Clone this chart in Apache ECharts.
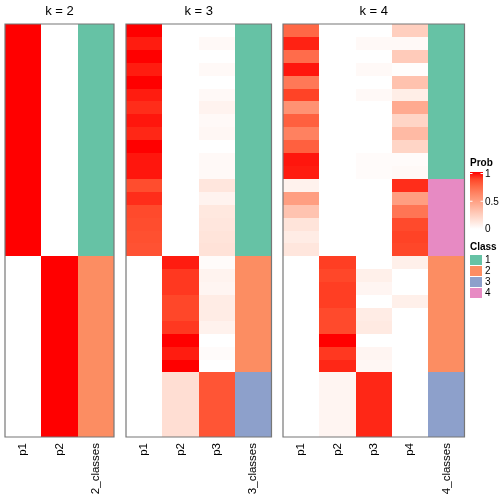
<!DOCTYPE html>
<html>
<head>
<meta charset="utf-8">
<script src="https://cdn.jsdelivr.net/npm/echarts@6/dist/echarts.min.js"></script>
<style>html,body{margin:0;padding:0;background:#fff}#c{width:504px;height:504px}</style>
</head>
<body>
<div id="c"></div>
<script>
// ---------- data ----------
const panelTitles = ['k = 2', 'k = 3', 'k = 4'];
const k2Cols = ['p1', 'p2', '2_classes'];
const k3Cols = ['p1', 'p2', 'p3', '3_classes'];
const k4Cols = ['p1', 'p2', 'p3', 'p4', '4_classes'];

const k2_p1 = [1,1,1,1,1,1,1,1,1,1,1,1,1,1,1,1,1,1, 0,0,0,0,0,0,0,0,0,0,0,0,0,0];
const k2_p2 = [0,0,0,0,0,0,0,0,0,0,0,0,0,0,0,0,0,0, 1,1,1,1,1,1,1,1,1,1,1,1,1,1];
const k2_class = [1,1,1,1,1,1,1,1,1,1,1,1,1,1,1,1,1,1, 2,2,2,2,2,2,2,2,2,2,2,2,2,2];

const k3_p1 = [1.00,0.95,1.00,0.95,1.00,0.95,0.92,0.96,0.93,1.00,0.96,0.96,0.85,0.92,0.86,0.85,0.84,0.83,
               0,0,0,0,0,0,0,0,0, 0,0,0,0,0];
const k3_p2 = [0,0,0,0,0,0,0,0,0,0,0,0,0,0,0,0,0,0,
               0.95,0.90,0.90,0.87,0.87,0.90,1.00,0.95,1.00, 0.17,0.17,0.17,0.17,0.17];
const k3_p3 = [0,0.03,0,0.03,0,0.03,0.06,0.03,0.04,0,0.03,0.03,0.13,0.06,0.12,0.13,0.14,0.15,
               0.02,0.06,0.05,0.10,0.10,0.07,0,0.02,0, 0.82,0.82,0.82,0.82,0.82];
const k3_class = [1,1,1,1,1,1,1,1,1,1,1,1,1,1,1,1,1,1, 2,2,2,2,2,2,2,2,2, 3,3,3,3,3];

const k4_p1 = [0.75,0.94,0.73,0.96,0.68,0.88,0.56,0.78,0.64,0.78,0.96,0.95,
               0.07,0.50,0.31,0.14,0.10,0.13,
               0,0,0,0,0,0,0,0,0, 0,0,0,0,0];
const k4_p2 = [0,0,0,0,0,0,0,0,0,0,0,0, 0,0,0,0,0,0,
               0.89,0.87,0.89,0.89,0.86,0.86,1.00,0.90,0.93, 0.05,0.05,0.05,0.05,0.05];
const k4_p3 = [0,0.03,0,0.03,0,0.03,0,0,0,0,0.02,0.02, 0,0,0,0,0,0,
               0,0.08,0.05,0,0.10,0.11,0,0.05,0.04, 0.93,0.93,0.93,0.93,0.93];
const k4_p4 = [0.25,0.03,0.27,0.01,0.32,0.09,0.44,0.22,0.36,0.22,0.02,0.03,
               0.92,0.50,0.69,0.86,0.88,0.87,
               0.08,0,0,0.08,0,0,0,0,0, 0,0,0,0,0];
const k4_class = [1,1,1,1,1,1,1,1,1,1,1,1, 4,4,4,4,4,4, 2,2,2,2,2,2,2,2,2, 3,3,3,3,3];

const classLabels = ['1', '2', '3', '4'];
const probTicks = ['1', '0.5', '0'];

// ---------- styles ----------
const classColors = ['#66C2A5', '#FC8D62', '#8DA0CB', '#E78AC3'];
const probColors = ['#FFFFFF','#FFE7DE','#FFCFBF','#FFB7A0','#FF9E81','#FF8464','#FF6846','#FF4628','#FF0000'];
const FONT = 'Liberation Sans, Arial, Helvetica, sans-serif';

const panels = [
  {cols: k2Cols, probs: [k2_p1, k2_p2], cls: k2_class, left: 5, width: 109},
  {cols: k3Cols, probs: [k3_p1, k3_p2, k3_p3], cls: k3_class, left: 126, width: 145.5},
  {cols: k4Cols, probs: [k4_p1, k4_p2, k4_p3, k4_p4], cls: k4_class, left: 283, width: 181.5}
];
const TOP = 24, HEIGHT = 413;
const rowNames = k2_class.map((_, i) => 's' + (i + 1));

// cell renderer: rectangle filling the category band, snapped to whole pixels (no seams)
function renderCell(params, api) {
  const c = api.coord([api.value(0), api.value(1)]);
  const s = api.size([1, 1]);
  const x0 = Math.round(c[0] - s[0] / 2), x1 = Math.round(c[0] + s[0] / 2);
  const y0 = Math.round(c[1] - s[1] / 2), y1 = Math.round(c[1] + s[1] / 2);
  return {
    type: 'rect',
    shape: {x: x0, y: y0, width: x1 - x0, height: y1 - y0},
    style: {fill: api.visual('color'), stroke: null, lineWidth: 0}
  };
}

const grid = [], xAxis = [], yAxis = [], series = [], graphic = [];
const probSeriesIdx = [], classSeriesIdx = [];

panels.forEach((p, pi) => {
  grid.push({left: p.left, top: TOP, width: p.width, height: HEIGHT, containLabel: false});
  xAxis.push({
    type: 'category', gridIndex: pi, data: p.cols, position: 'bottom',
    axisLine: {show: false}, axisTick: {show: false}, splitLine: {show: false},
    axisLabel: {rotate: 90, interval: 0, margin: 6, fontSize: 11.5, color: '#000', fontFamily: FONT}
  });
  yAxis.push({
    type: 'category', gridIndex: pi, data: rowNames, inverse: true,
    axisLine: {show: false}, axisTick: {show: false}, axisLabel: {show: false}, splitLine: {show: false}
  });
  const probData = [];
  p.probs.forEach((arr, j) => arr.forEach((v, i) => probData.push([j, i, v])));
  probSeriesIdx.push(series.length);
  series.push({
    type: 'custom', xAxisIndex: pi, yAxisIndex: pi, data: probData,
    encode: {x: 0, y: 1}, silent: true, animation: false, renderItem: renderCell
  });
  const clsData = p.cls.map((c, i) => [p.probs.length, i, c]);
  classSeriesIdx.push(series.length);
  series.push({
    type: 'custom', xAxisIndex: pi, yAxisIndex: pi, data: clsData,
    encode: {x: 0, y: 1}, silent: true, animation: false, renderItem: renderCell
  });
  // panel border
  graphic.push({
    type: 'rect', z: 100, silent: true,
    shape: {x: p.left, y: TOP, width: p.width, height: HEIGHT},
    style: {fill: 'none', stroke: '#777', lineWidth: 1.2}
  });
  // title
  graphic.push({
    type: 'text', z: 100, x: p.left + p.width / 2, y: 11,
    style: {text: panelTitles[pi], font: '13px ' + FONT, fill: '#000', align: 'center', verticalAlign: 'middle'}
  });
});

// legend: Prob
const LX = 470;
graphic.push({type: 'text', x: LX, y: 163,
  style: {text: 'Prob', font: 'bold 10px ' + FONT, fill: '#000', align: 'left', verticalAlign: 'middle'}});
const barTop = 172, barH = 57;
graphic.push({type: 'rect', shape: {x: LX, y: barTop, width: 13, height: barH},
  style: {fill: new echarts.graphic.LinearGradient(0, 0, 0, 1,
    probColors.slice().reverse().map((c, i, a) => ({offset: i / (a.length - 1), color: c})))}});
probTicks.forEach((t, i) => {
  const y = barTop + 1.5 + i * (barH - 1.5) / 2;
  graphic.push({type: 'line', shape: {x1: LX, y1: y, x2: LX + 2.5, y2: y}, style: {stroke: '#fff', lineWidth: 1}});
  graphic.push({type: 'line', shape: {x1: LX + 10.5, y1: y, x2: LX + 13, y2: y}, style: {stroke: '#fff', lineWidth: 1}});
  graphic.push({type: 'text', x: LX + 15, y: y + 0.5,
    style: {text: t, font: '10px ' + FONT, fill: '#000', align: 'left', verticalAlign: 'middle'}});
});

// legend: Class
graphic.push({type: 'text', x: LX, y: 247,
  style: {text: 'Class', font: 'bold 10px ' + FONT, fill: '#000', align: 'left', verticalAlign: 'middle'}});
classLabels.forEach((t, i) => {
  const cy = 260 + i * 11;
  graphic.push({type: 'rect', shape: {x: LX, y: cy - 5, width: 12, height: 10}, style: {fill: classColors[i]}});
  graphic.push({type: 'text', x: LX + 15, y: cy,
    style: {text: t, font: '10px ' + FONT, fill: '#000', align: 'left', verticalAlign: 'middle'}});
});

const chart = echarts.init(document.getElementById('c'), null, {renderer: 'canvas'});
chart.setOption({
  animation: false,
  backgroundColor: '#fff',
  grid, xAxis, yAxis, series, graphic,
  visualMap: [
    {type: 'continuous', show: false, min: 0, max: 1, dimension: 2, seriesIndex: probSeriesIdx,
     inRange: {color: probColors}},
    {type: 'piecewise', show: false, dimension: 2, seriesIndex: classSeriesIdx,
     pieces: classColors.map((c, i) => ({value: i + 1, color: c}))}
  ]
});
</script>
</body>
</html>
